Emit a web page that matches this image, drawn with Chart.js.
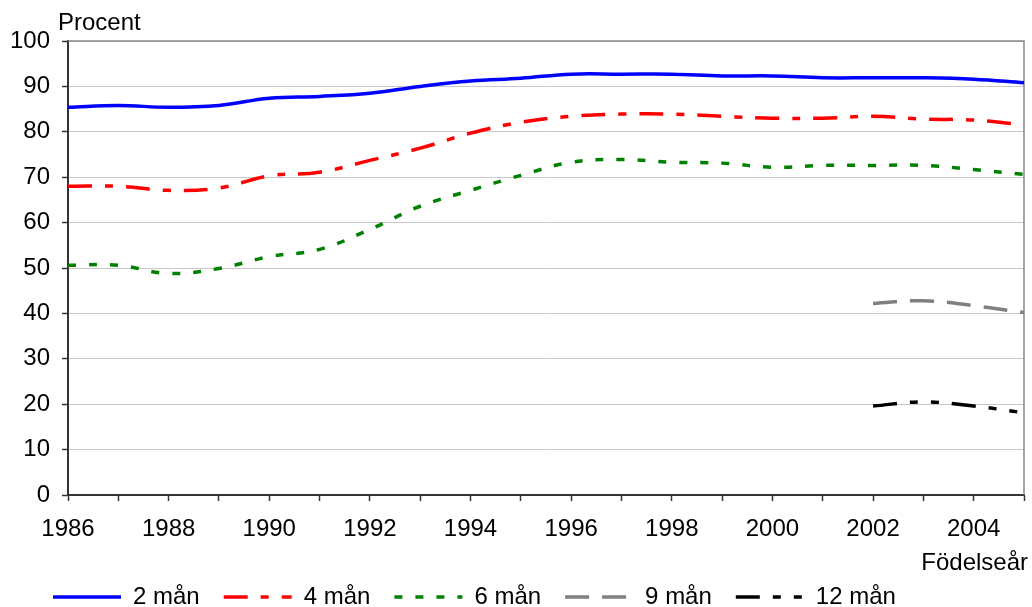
<!DOCTYPE html>
<html>
<head>
<meta charset="utf-8">
<script src="https://cdn.jsdelivr.net/npm/chart.js@4.4.0/dist/chart.umd.min.js"></script>
<style>
  body { margin: 0; background: #fff; }
  #wrap { width: 1032px; height: 607px; }
</style>
</head>
<body>
<div id="wrap"><canvas id="amningChart"></canvas></div>
<script>
const years = ['1986', '1987', '1988', '1989', '1990', '1991', '1992', '1993', '1994', '1995',
  '1996', '1997', '1998', '1999', '2000', '2001', '2002', '2003', '2004', '2005'];
const man2 = [85.4, 85.8, 85.4, 85.8, 87.4, 87.8, 88.5, 90.0, 91.2, 91.8,
  92.7, 92.7, 92.7, 92.3, 92.3, 91.9, 91.9, 91.9, 91.6, 90.8];
const man4 = [68.0, 68.0, 67.1, 67.6, 70.3, 71.1, 73.7, 76.4, 79.7, 82.1,
  83.4, 83.9, 83.9, 83.4, 83.0, 83.0, 83.4, 82.8, 82.6, 81.5];
const man6 = [50.6, 50.6, 48.8, 49.9, 52.5, 54.1, 58.5, 63.6, 67.1, 70.4,
  73.3, 73.9, 73.3, 73.1, 72.2, 72.6, 72.6, 72.6, 71.7, 70.6];
const man9 = [null, null, null, null, null, null, null, null, null, null,
  null, null, null, null, null, null, 42.2, 42.8, 41.7, 40.2];
const man12 = [null, null, null, null, null, null, null, null, null, null,
  null, null, null, null, null, null, 19.6, 20.5, 19.6, 18.1];
const yTicks = [0, 10, 20, 30, 40, 50, 60, 70, 80, 90, 100];

const fontName = "'Liberation Sans', Arial, sans-serif";

function line(label, data, color, dash, width) {
  return {
    label: label,
    data: data,
    borderColor: color,
    backgroundColor: color,
    borderWidth: width,
    borderDash: dash,
    pointRadius: 0,
    pointHoverRadius: 0,
    fill: false,
    tension: 0.4,
  };
}

// frame, axis captions and legend placement
const extras = {
  id: 'extras',
  afterLayout(chart) {
    chart.legend.left = 29;
    chart.legend.top = 561;
  },
  beforeDatasetsDraw(chart) {
    const a = chart.chartArea;
    const ctx = chart.ctx;
    ctx.save();
    ctx.strokeStyle = '#888';
    ctx.lineWidth = 1.5;
    ctx.beginPath();
    ctx.moveTo(a.left, a.top);
    ctx.lineTo(a.right, a.top);
    ctx.lineTo(a.right, a.bottom);
    ctx.stroke();
    ctx.restore();
  },
  afterDraw(chart) {
    const ctx = chart.ctx;
    ctx.save();
    ctx.fillStyle = '#000';
    ctx.font = '24px ' + fontName;
    ctx.textBaseline = 'middle';
    ctx.textAlign = 'left';
    ctx.fillText('Procent', 58, 23);
    ctx.textAlign = 'right';
    ctx.fillText('Födelseår', 1028, 563);
    ctx.restore();
  },
};

const ctx = document.getElementById('amningChart').getContext('2d');
new Chart(ctx, {
  type: 'line',
  data: {
    labels: years,
    datasets: [
      line('2 mån', man2, '#0000ff', [], 3.5),
      line('4 mån', man4, '#ff0000', [24, 13, 8, 13], 3.5),
      line('6 mån', man6, '#008000', [8, 13], 3.5),
      line('9 mån', man9, '#808080', [24, 13], 3.5),
      line('12 mån', man12, '#000000', [24, 13, 8, 13, 8, 13], 3.5),
    ],
  },
  options: {
    responsive: true,
    maintainAspectRatio: false,
    animation: false,
    layout: {
      padding: { left: 0, right: 8, top: 41, bottom: 0 },
    },
    plugins: {
      tooltip: { enabled: false },
      legend: {
        display: true,
        position: 'bottom',
        align: 'start',
        labels: {
          usePointStyle: true,
          pointStyle: 'line',
          pointStyleWidth: 68,
          padding: 24,
          color: '#000',
          font: { family: fontName, size: 24 },
          generateLabels(chart) {
            const items = Chart.defaults.plugins.legend.labels.generateLabels(chart);
            items.forEach(it => {
              const ds = chart.data.datasets[it.datasetIndex];
              it.lineDash = ds.borderDash;
              it.lineWidth = ds.borderWidth;
              it.strokeStyle = ds.borderColor;
            });
            return items;
          },
        },
      },
    },
    scales: {
      x: {
        offset: false,
        afterFit(scale) {
          scale.height = 54;
          scale.paddingLeft = 0;
          scale.paddingRight = 0;
        },
        grid: {
          display: true,
          drawOnChartArea: false,
          tickLength: 6,
          tickColor: '#333',
          tickWidth: 1.5,
        },
        border: { color: '#333', width: 2 },
        ticks: {
          autoSkip: false,
          maxRotation: 0,
          padding: 14,
          color: '#000',
          font: { family: fontName, size: 24 },
          callback: function (value, index) {
            const y = years[index];
            return Number(y) % 2 === 0 ? y : '';
          },
        },
      },
      y: {
        min: 0,
        max: 100,
        afterFit(scale) { scale.width = 68; },
        afterBuildTicks(scale) {
          scale.ticks = yTicks.map(v => ({ value: v }));
        },
        grid: {
          color: '#c8c8c8',
          lineWidth: 1,
          tickLength: 6,
          tickColor: '#333',
          tickWidth: 1.5,
        },
        border: { color: '#333', width: 2 },
        ticks: {
          padding: 12,
          color: '#000',
          font: { family: fontName, size: 24 },
        },
      },
    },
  },
  plugins: [extras],
});
</script>
</body>
</html>
